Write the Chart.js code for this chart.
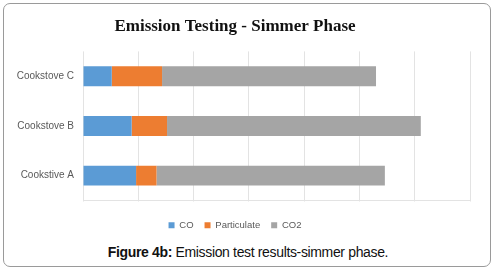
<!DOCTYPE html>
<html>
<head>
<meta charset="utf-8">
<script src="https://cdn.jsdelivr.net/npm/chart.js@4"></script>
<style>
  body { margin: 0; background: #fff; width: 496px; height: 272px; overflow: hidden; position: relative; }
  .frame { position: absolute; left: 3px; top: 3px; width: 488px; height: 264px; box-sizing: border-box;
           border: 1px solid #9a9a9a; border-radius: 7px; }
  #chart { position: absolute; left: 0; top: 0; }
  .caption { position: absolute; left: 0; top: 244px; width: 496px; text-align: center;
             font-family: "Liberation Sans", Arial, sans-serif; font-size: 14px; letter-spacing: -0.35px; color: #111; }
</style>
</head>
<body>
<div class="frame"></div>
<canvas id="chart" width="496" height="240"></canvas>
<div class="caption"><b>Figure 4b:</b> Emission test results-simmer phase.</div>
<script>
const stoves = ["Cookstove C", "Cookstove B", "Cookstive A"];
const coValues = [0.52, 0.88, 0.96];
const particulateValues = [0.91, 0.64, 0.37];
const co2Values = [3.87, 4.59, 4.13];
const axisMax = 7;

const labelFont = "'Liberation Sans', Arial, sans-serif";

new Chart(document.getElementById("chart"), {
  type: "bar",
  data: {
    labels: stoves,
    datasets: [
      { label: "CO", data: coValues, backgroundColor: "#5b9bd5" },
      { label: "Particulate", data: particulateValues, backgroundColor: "#ed7d31" },
      { label: "CO2", data: co2Values, backgroundColor: "#a5a5a5" }
    ]
  },
  options: {
    indexAxis: "y",
    responsive: false,
    animation: false,
    categoryPercentage: 0.8,
    barPercentage: 0.5,
    layout: { padding: { left: 0, right: 26, top: 0, bottom: 0 } },
    plugins: {
      title: {
        display: true,
        text: "Emission Testing - Simmer Phase",
        color: "#111",
        font: { family: "'Liberation Serif', 'Times New Roman', serif", size: 17, weight: "bold" },
        padding: { top: 16, bottom: 15 }
      },
      legend: {
        position: "bottom",
        labels: {
          boxWidth: 6,
          boxHeight: 6,
          padding: 11,
          color: "#595959",
          font: { family: labelFont, size: 9.5 }
        }
      },
      tooltip: { enabled: false }
    },
    scales: {
      x: {
        stacked: true,
        min: 0,
        max: axisMax,
        ticks: { display: false, stepSize: 1 },
        grid: { color: "#e3e3e3", drawTicks: true, tickLength: 1 },
        border: { color: "#e3e3e3" },
        afterFit: (s) => { s.height = 9; }
      },
      y: {
        stacked: true,
        grid: { display: false, drawTicks: false },
        border: { display: false },
        ticks: { color: "#595959", padding: 9, font: { family: labelFont, size: 10 } },
        afterFit: (s) => { s.width = 83; }
      }
    }
  }
});
</script>
</body>
</html>
